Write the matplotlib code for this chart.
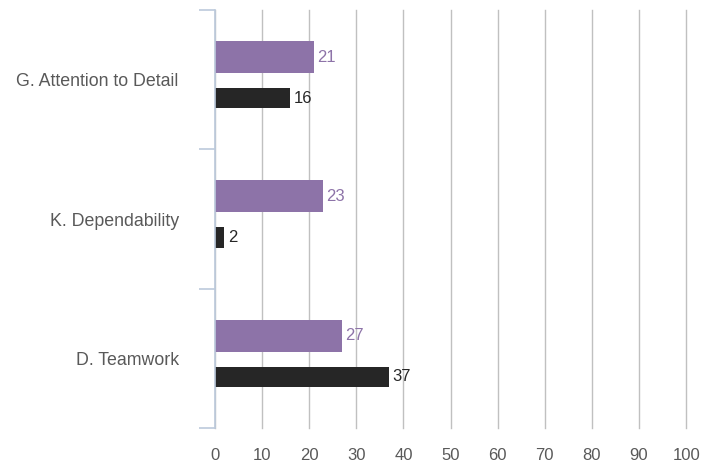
import matplotlib.pyplot as plt
import numpy as np

plt.rcParams['font.family'] = ['Liberation Sans', 'DejaVu Sans']

# Competency scores, top to bottom
categories = ['G. Attention to Detail', 'K. Dependability', 'D. Teamwork']
purple_vals = [21, 23, 27]
black_vals = [16, 2, 37]

purple = '#8d73a8'
dark = '#262626'
spine_col = '#bccadc'

fig = plt.figure(figsize=(7.14, 4.71), dpi=100)
ax = fig.add_axes([0.301, 0.091, 0.660, 0.888])

y = np.arange(len(categories))
ax.barh(y - 0.162, purple_vals, height=0.23, color=purple, zorder=3)
ax.barh(y + 0.133, black_vals, height=0.145, color=dark, zorder=3)

# value labels
for yi, v in zip(y, purple_vals):
    ax.text(v + 0.7, yi - 0.162, str(v), va='center', ha='left',
            color=purple, fontsize=12)
for yi, v in zip(y, black_vals):
    ax.text(v + 0.7, yi + 0.133, str(v), va='center', ha='left',
            color=dark, fontsize=12)

ax.set_xlim(0, 100)
ax.set_ylim(len(categories) - 0.5, -0.5)
ax.set_xticks(np.arange(0, 101, 10))
ax.tick_params(axis='x', length=0, labelsize=12, labelcolor='#595959', pad=14)
ax.grid(axis='x', color='#c0c0c0', linewidth=1, zorder=0)
for gl in ax.get_xgridlines():
    gl.set_clip_on(False)

# boundary ticks on the left spine, category names in between
ax.set_yticks(np.arange(len(categories) + 1) - 0.5)
ax.set_yticklabels([])
ax.tick_params(axis='y', which='major', length=11.5, color=spine_col, width=1.2)
ax.set_yticks(y, minor=True)
ax.set_yticklabels(categories, minor=True)
ax.tick_params(axis='y', which='minor', length=0, pad=26,
               labelsize=12.8, labelcolor='#595959')

for s in ['top', 'right', 'bottom']:
    ax.spines[s].set_visible(False)
ax.spines['left'].set_color(spine_col)
ax.spines['left'].set_linewidth(1.2)
ax.spines['left'].set_zorder(4)

fig.savefig('out.png', dpi=100)
